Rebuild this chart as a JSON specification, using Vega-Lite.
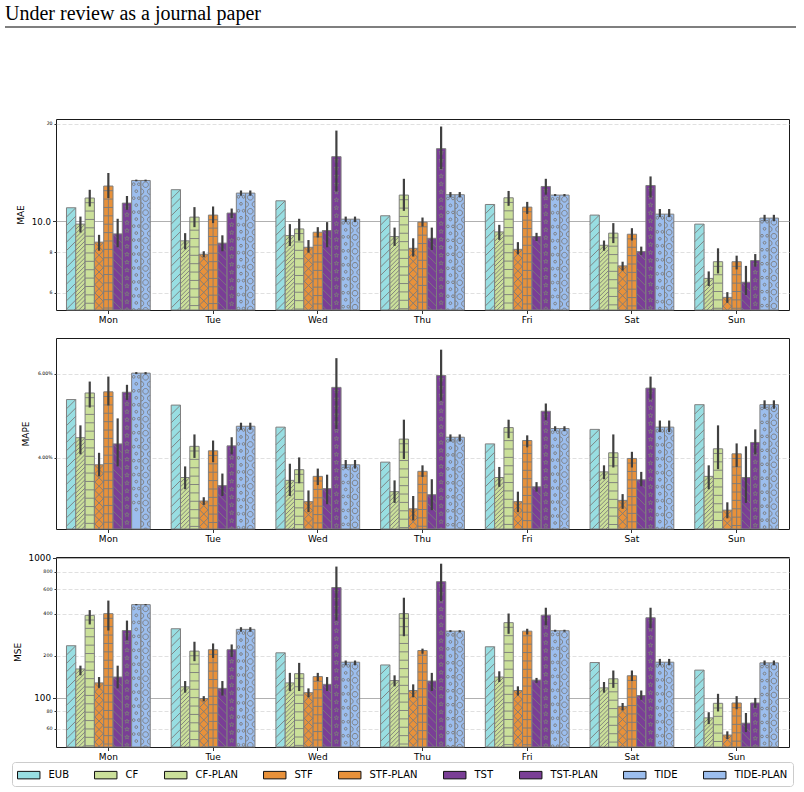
{
  "$schema": "https://vega.github.io/schema/vega-lite/v6.json",
  "background": "white",
  "padding": {"left": 4, "top": 4, "right": 6, "bottom": 4},
  "config": {
    "font": "DejaVu Sans",
    "view": {"stroke": "#1a1a1a", "strokeWidth": 1},
    "axis": {"labelColor": "black", "titleColor": "black", "tickColor": "black", "domain": false, "titleFontWeight": "normal", "titleFontSize": 9, "labelPadding": 2, "tickWidth": 0.8},
    "axisX": {"labelFontSize": 9, "tickSize": 3.5, "labelAngle": 0, "grid": false},
    "legend": {"orient": "none", "legendX": -44, "legendY": 735, "direction": "horizontal", "columns": 9, "symbolType": "M-1,-0.5H2V0.5H-1Z", "symbolSize": 224, "symbolStrokeColor": "#111111", "symbolStrokeWidth": 1, "labelFontSize": 10, "labelOffset": 15.5, "columnPadding": 23, "padding": 5, "strokeColor": "#cccccc", "cornerRadius": 3, "fillColor": "white", "labelColor": "black", "labelLimit": 0}
  },
  "datasets": {
    "d": [
      {"day":"Mon","method":"EUB","mae":11.0,"mae_lo":null,"mae_hi":null,"mape":5.30,"mape_lo":null,"mape_hi":null,"mse":236,"mse_lo":null,"mse_hi":null},
      {"day":"Mon","method":"CF","mae":9.79,"mae_lo":9.22,"mae_hi":10.33,"mape":4.41,"mape_lo":4.07,"mape_hi":4.68,"mse":161,"mse_lo":145,"mse_hi":170},
      {"day":"Mon","method":"CF-PLAN","mae":11.79,"mae_lo":11.1,"mae_hi":12.5,"mape":5.47,"mape_lo":5.10,"mape_hi":5.78,"mse":389,"mse_lo":335,"mse_hi":424},
      {"day":"Mon","method":"STF","mae":8.61,"mae_lo":8.10,"mae_hi":9.07,"mape":3.87,"mape_lo":3.66,"mape_hi":4.10,"mse":128,"mse_lo":118,"mse_hi":141},
      {"day":"Mon","method":"STF-PLAN","mae":12.84,"mae_lo":11.79,"mae_hi":14.09,"mape":5.50,"mape_lo":5.15,"mape_hi":5.92,"mse":400,"mse_lo":303,"mse_hi":496},
      {"day":"Mon","method":"TST","mae":9.13,"mae_lo":8.30,"mae_hi":10.17,"mape":4.28,"mape_lo":3.84,"mape_hi":4.84,"mse":141,"mse_lo":117,"mse_hi":170},
      {"day":"Mon","method":"TST-PLAN","mae":11.37,"mae_lo":10.84,"mae_hi":11.96,"mape":5.49,"mape_lo":5.29,"mape_hi":5.69,"mse":303,"mse_lo":258,"mse_hi":357},
      {"day":"Mon","method":"TIDE","mae":13.36,"mae_lo":13.28,"mae_hi":13.44,"mape":6.02,"mape_lo":5.99,"mape_hi":6.05,"mse":464,"mse_lo":459,"mse_hi":469},
      {"day":"Mon","method":"TIDE-PLAN","mae":13.36,"mae_lo":13.28,"mae_hi":13.44,"mape":6.02,"mape_lo":5.99,"mape_hi":6.05,"mse":464,"mse_lo":459,"mse_hi":469},

      {"day":"Tue","method":"EUB","mae":12.51,"mae_lo":null,"mae_hi":null,"mape":5.16,"mape_lo":null,"mape_hi":null,"mse":312,"mse_lo":null,"mse_hi":null},
      {"day":"Tue","method":"CF","mae":8.69,"mae_lo":8.18,"mae_hi":9.18,"mape":3.64,"mape_lo":3.44,"mape_hi":3.84,"mse":120,"mse_lo":109,"mse_hi":132},
      {"day":"Tue","method":"CF-PLAN","mae":10.29,"mae_lo":9.58,"mae_hi":11.05,"mape":4.23,"mape_lo":4.00,"mape_hi":4.48,"mse":216,"mse_lo":183,"mse_hi":252},
      {"day":"Tue","method":"STF","mae":7.90,"mae_lo":7.73,"mae_hi":8.07,"mape":3.25,"mape_lo":3.19,"mape_hi":3.31,"mse":99,"mse_lo":94.5,"mse_hi":103},
      {"day":"Tue","method":"STF-PLAN","mae":10.44,"mae_lo":9.86,"mae_hi":11.10,"mape":4.14,"mape_lo":3.92,"mape_hi":4.35,"mse":221,"mse_lo":193,"mse_hi":245},
      {"day":"Tue","method":"TST","mae":8.55,"mae_lo":8.07,"mae_hi":9.04,"mape":3.50,"mape_lo":3.33,"mape_hi":3.71,"mse":117,"mse_lo":104,"mse_hi":132},
      {"day":"Tue","method":"TST-PLAN","mae":10.59,"mae_lo":10.22,"mae_hi":10.94,"mape":4.24,"mape_lo":4.07,"mape_hi":4.42,"mse":221,"mse_lo":196,"mse_hi":241},
      {"day":"Tue","method":"TIDE","mae":12.21,"mae_lo":11.98,"mae_hi":12.44,"mape":4.66,"mape_lo":4.58,"mape_hi":4.74,"mse":309,"mse_lo":297,"mse_hi":320},
      {"day":"Tue","method":"TIDE-PLAN","mae":12.21,"mae_lo":11.98,"mae_hi":12.44,"mape":4.66,"mape_lo":4.58,"mape_hi":4.74,"mse":309,"mse_lo":297,"mse_hi":320},

      {"day":"Wed","method":"EUB","mae":11.56,"mae_lo":null,"mae_hi":null,"mape":4.64,"mape_lo":null,"mape_hi":null,"mse":210,"mse_lo":null,"mse_hi":null},
      {"day":"Wed","method":"CF","mae":9.02,"mae_lo":8.38,"mae_hi":9.79,"mape":3.59,"mape_lo":3.33,"mape_hi":3.89,"mse":128,"mse_lo":112,"mse_hi":151},
      {"day":"Wed","method":"CF-PLAN","mae":9.46,"mae_lo":8.70,"mae_hi":10.17,"mape":3.78,"mape_lo":3.54,"mape_hi":4.01,"mse":149,"mse_lo":112,"mse_hi":178},
      {"day":"Wed","method":"STF","mae":8.30,"mae_lo":7.99,"mae_hi":8.74,"mape":3.24,"mape_lo":3.08,"mape_hi":3.42,"mse":109,"mse_lo":101,"mse_hi":117},
      {"day":"Wed","method":"STF-PLAN","mae":9.24,"mae_lo":8.90,"mae_hi":9.58,"mape":3.66,"mape_lo":3.51,"mape_hi":3.80,"mse":142,"mse_lo":132,"mse_hi":151},
      {"day":"Wed","method":"TST","mae":9.35,"mae_lo":8.30,"mae_hi":9.93,"mape":3.45,"mape_lo":3.20,"mape_hi":3.69,"mse":125,"mse_lo":112,"mse_hi":141},
      {"day":"Wed","method":"TST-PLAN","mae":15.83,"mae_lo":12.35,"mae_hi":19.06,"mape":5.62,"mape_lo":4.60,"mape_hi":6.47,"mse":615,"mse_lo":357,"mse_hi":868},
      {"day":"Wed","method":"TIDE","mae":10.14,"mae_lo":9.93,"mae_hi":10.33,"mape":3.87,"mape_lo":3.80,"mape_hi":3.96,"mse":180,"mse_lo":171,"mse_hi":185},
      {"day":"Wed","method":"TIDE-PLAN","mae":10.14,"mae_lo":9.93,"mae_hi":10.33,"mape":3.87,"mape_lo":3.80,"mape_hi":3.96,"mse":180,"mse_lo":171,"mse_hi":185},

      {"day":"Thu","method":"EUB","mae":10.39,"mae_lo":null,"mae_hi":null,"mape":3.92,"mape_lo":null,"mape_hi":null,"mse":172,"mse_lo":null,"mse_hi":null},
      {"day":"Thu","method":"CF","mae":8.96,"mae_lo":8.38,"mae_hi":9.55,"mape":3.40,"mape_lo":3.22,"mape_hi":3.59,"mse":133,"mse_lo":121,"mse_hi":145},
      {"day":"Thu","method":"CF-PLAN","mae":12.04,"mae_lo":10.76,"mae_hi":13.52,"mape":4.38,"mape_lo":3.98,"mape_hi":4.81,"mse":400,"mse_lo":276,"mse_hi":520},
      {"day":"Thu","method":"STF","mae":8.24,"mae_lo":7.77,"mae_hi":8.85,"mape":3.13,"mape_lo":2.96,"mape_hi":3.33,"mse":113,"mse_lo":101,"mse_hi":125},
      {"day":"Thu","method":"STF-PLAN","mae":9.93,"mae_lo":9.62,"mae_hi":10.26,"mape":3.75,"mape_lo":3.65,"mape_hi":3.86,"mse":218,"mse_lo":207,"mse_hi":225},
      {"day":"Thu","method":"TST","mae":8.85,"mae_lo":8.14,"mae_hi":9.55,"mape":3.35,"mape_lo":3.11,"mape_hi":3.61,"mse":132,"mse_lo":112,"mse_hi":151},
      {"day":"Thu","method":"TST-PLAN","mae":16.76,"mae_lo":14.49,"mae_hi":19.62,"mape":5.95,"mape_lo":5.27,"mape_hi":6.74,"mse":677,"mse_lo":492,"mse_hi":910},
      {"day":"Thu","method":"TIDE","mae":12.07,"mae_lo":11.84,"mae_hi":12.30,"mape":4.42,"mape_lo":4.33,"mape_hi":4.48,"mse":300,"mse_lo":295,"mse_hi":305},
      {"day":"Thu","method":"TIDE-PLAN","mae":12.07,"mae_lo":11.84,"mae_hi":12.30,"mape":4.42,"mape_lo":4.33,"mape_hi":4.48,"mse":300,"mse_lo":295,"mse_hi":305},

      {"day":"Fri","method":"EUB","mae":11.26,"mae_lo":null,"mae_hi":null,"mape":4.28,"mape_lo":null,"mape_hi":null,"mse":232,"mse_lo":null,"mse_hi":null},
      {"day":"Fri","method":"CF","mae":9.26,"mae_lo":8.75,"mae_hi":9.74,"mape":3.64,"mape_lo":3.48,"mape_hi":3.83,"mse":141,"mse_lo":130,"mse_hi":155},
      {"day":"Fri","method":"CF-PLAN","mae":11.81,"mae_lo":11.15,"mae_hi":12.40,"mape":4.63,"mape_lo":4.40,"mape_hi":4.81,"mse":345,"mse_lo":287,"mse_hi":401},
      {"day":"Fri","method":"STF","mae":8.18,"mae_lo":7.90,"mae_hi":8.61,"mape":3.24,"mape_lo":3.08,"mape_hi":3.40,"mse":113,"mse_lo":104,"mse_hi":121},
      {"day":"Fri","method":"STF-PLAN","mae":11.05,"mae_lo":10.53,"mae_hi":11.47,"mape":4.35,"mape_lo":4.21,"mape_hi":4.46,"mse":300,"mse_lo":284,"mse_hi":312},
      {"day":"Fri","method":"TST","mae":8.96,"mae_lo":8.68,"mae_hi":9.20,"mape":3.48,"mape_lo":3.40,"mape_hi":3.56,"mse":134,"mse_lo":128,"mse_hi":139},
      {"day":"Fri","method":"TST-PLAN","mae":12.80,"mae_lo":12.07,"mae_hi":13.52,"mape":5.01,"mape_lo":4.80,"mape_hi":5.20,"mse":390,"mse_lo":330,"mse_hi":441},
      {"day":"Fri","method":"TIDE","mae":12.04,"mae_lo":11.95,"mae_hi":12.13,"mape":4.61,"mape_lo":4.55,"mape_hi":4.66,"mse":302,"mse_lo":297,"mse_hi":307},
      {"day":"Fri","method":"TIDE-PLAN","mae":12.04,"mae_lo":11.95,"mae_hi":12.13,"mape":4.61,"mape_lo":4.55,"mape_hi":4.66,"mse":302,"mse_lo":297,"mse_hi":307},

      {"day":"Sat","method":"EUB","mae":10.44,"mae_lo":null,"mae_hi":null,"mape":4.59,"mape_lo":null,"mape_hi":null,"mse":179,"mse_lo":null,"mse_hi":null},
      {"day":"Sat","method":"CF","mae":8.42,"mae_lo":8.10,"mae_hi":8.71,"mape":3.74,"mape_lo":3.61,"mape_hi":3.86,"mse":118,"mse_lo":109,"mse_hi":130},
      {"day":"Sat","method":"CF-PLAN","mae":9.18,"mae_lo":8.55,"mae_hi":9.86,"mape":4.10,"mape_lo":3.82,"mape_hi":4.48,"mse":137,"mse_lo":118,"mse_hi":157},
      {"day":"Sat","method":"STF","mae":7.27,"mae_lo":7.03,"mae_hi":7.49,"mape":3.26,"mape_lo":3.13,"mape_hi":3.36,"mse":87,"mse_lo":81.5,"mse_hi":92},
      {"day":"Sat","method":"STF-PLAN","mae":9.11,"mae_lo":8.71,"mae_hi":9.51,"mape":3.99,"mape_lo":3.82,"mape_hi":4.12,"mse":144,"mse_lo":132,"mse_hi":157},
      {"day":"Sat","method":"TST","mae":8.05,"mae_lo":7.86,"mae_hi":8.34,"mape":3.60,"mape_lo":3.49,"mape_hi":3.74,"mse":104,"mse_lo":97,"mse_hi":113},
      {"day":"Sat","method":"TST-PLAN","mae":12.89,"mae_lo":11.84,"mae_hi":13.75,"mape":5.60,"mape_lo":5.30,"mape_hi":5.92,"mse":374,"mse_lo":314,"mse_hi":441},
      {"day":"Sat","method":"TIDE","mae":10.51,"mae_lo":10.29,"mae_hi":10.90,"mape":4.64,"mape_lo":4.53,"mape_hi":4.79,"mse":180,"mse_lo":171,"mse_hi":190},
      {"day":"Sat","method":"TIDE-PLAN","mae":10.51,"mae_lo":10.29,"mae_hi":10.90,"mape":4.64,"mape_lo":4.53,"mape_hi":4.79,"mse":180,"mse_lo":171,"mse_hi":190},

      {"day":"Sun","method":"EUB","mae":9.79,"mae_lo":null,"mae_hi":null,"mape":5.17,"mape_lo":null,"mape_hi":null,"mse":158,"mse_lo":null,"mse_hi":null},
      {"day":"Sun","method":"CF","mae":6.65,"mae_lo":6.30,"mae_hi":6.99,"mape":3.66,"mape_lo":3.44,"mape_hi":3.86,"mse":72,"mse_lo":65,"mse_hi":79},
      {"day":"Sun","method":"CF-PLAN","mae":7.49,"mae_lo":6.89,"mae_hi":8.24,"mape":4.18,"mape_lo":3.79,"mape_hi":4.68,"mse":91.5,"mse_lo":80,"mse_hi":107},
      {"day":"Sun","method":"STF","mae":5.81,"mae_lo":5.59,"mae_hi":6.03,"mape":3.11,"mape_lo":2.99,"mape_hi":3.23,"mse":54.3,"mse_lo":50.9,"mse_hi":57.7},
      {"day":"Sun","method":"STF-PLAN","mae":7.49,"mae_lo":7.09,"mae_hi":7.82,"mape":4.08,"mape_lo":3.83,"mape_hi":4.29,"mse":92,"mse_lo":83,"mse_hi":103},
      {"day":"Sun","method":"TST","mae":6.47,"mae_lo":5.91,"mae_hi":7.27,"mape":3.64,"mape_lo":3.22,"mape_hi":4.23,"mse":66,"mse_lo":57,"mse_hi":78},
      {"day":"Sun","method":"TST-PLAN","mae":7.55,"mae_lo":7.23,"mae_hi":7.91,"mape":4.31,"mape_lo":4.07,"mape_hi":4.59,"mse":92,"mse_lo":85,"mse_hi":100},
      {"day":"Sun","method":"TIDE","mae":10.22,"mae_lo":9.99,"mae_hi":10.46,"mape":5.17,"mape_lo":5.07,"mape_hi":5.28,"mse":178,"mse_lo":171,"mse_hi":185},
      {"day":"Sun","method":"TIDE-PLAN","mae":10.22,"mae_lo":9.99,"mae_hi":10.46,"mape":5.17,"mape_lo":5.07,"mape_hi":5.28,"mse":178,"mse_lo":171,"mse_hi":185}
    ]
  },
  "spacing": 91,
  "bounds": "flush",
  "resolve": {"scale": {"color": "shared"}, "legend": {"color": "shared"}},
  "vconcat": [
    {
      "width": 733,
      "height": 1,
      "view": {"stroke": null},
      "title": {"text": "Under review as a journal paper", "anchor": "start", "frame": "group", "dx": -51, "font": "Liberation Serif", "fontSize": 20, "fontWeight": "normal", "baseline": "bottom", "offset": -18, "color": "black"},
      "data": {"values": [{}]},
      "mark": {"type": "rule", "color": "black", "strokeWidth": 1.2},
      "encoding": {
        "x": {"datum": -0.0696, "type": "quantitative", "scale": {"domain": [0, 1]}, "axis": null},
        "x2": {"datum": 1.0096},
        "y": {"datum": 1, "type": "quantitative", "scale": {"domain": [0, 1]}, "axis": null}
      }
    },
    {
      "spacing": 28,
      "bounds": "flush",
      "resolve": {"scale": {"y": "independent", "color": "shared"}, "legend": {"color": "shared"}},
      "vconcat": [
        {
          "width": 733,
          "height": 191,
          "data": {"name": "d"},
          "encoding": {
            "x": {"field": "day", "type": "nominal", "sort": ["Mon","Tue","Wed","Thu","Fri","Sat","Sun"], "scale": {"paddingInner": 0.2, "paddingOuter": 0.1}, "axis": {"title": null}},
            "xOffset": {"field": "method", "type": "nominal", "sort": ["EUB","CF","CF-PLAN","STF","STF-PLAN","TST","TST-PLAN","TIDE","TIDE-PLAN"], "scale": {"paddingInner": 0, "paddingOuter": 0}}
          },
          "layer": [
            {
              "mark": {"type": "bar", "stroke": "#7f7f7f", "strokeWidth": 1},
              "encoding": {
                "y": {"field": "mae", "type": "quantitative", "scale": {"type": "log", "domain": [5.31, 20.7], "nice": false, "zero": false},
                  "axis": {"title": "MAE", "values": [6, 8, 10, 20],
                    "labelExpr": "datum.value == 10 ? '10.0' : format(datum.value, 'd')",
                    "labelFontSize": {"condition": {"test": "datum.value == 10", "value": 8.6}, "value": 4.6},
                    "tickSize": {"condition": {"test": "datum.value == 10", "value": 3.5}, "value": 2},
                    "gridColor": {"condition": {"test": "datum.value == 10", "value": "#b0b0b0"}, "value": "#d8d8d8"},
                    "gridDash": {"condition": {"test": "datum.value == 10", "value": []}, "value": [4, 2]},
                    "gridWidth": {"condition": {"test": "datum.value == 10", "value": 1.2}, "value": 0.8},
                    "titleX": -36, "titleY": 95.5, "titleBaseline": "middle"}},
                "y2": {"datum": 5.31},
                "color": {"field": "method", "type": "nominal",
                  "scale": {"domain": ["EUB","CF","CF-PLAN","STF","STF-PLAN","TST","TST-PLAN","TIDE","TIDE-PLAN"],
                            "range": ["#98DEE2","#CBE09A","#CBE09A","#E8913A","#E8913A","#7A3E96","#7A3E96","#9CBEEE","#9CBEEE"]},
                  "legend": {"title": null}}
              }
            },
            {
              "mark": {"type": "point", "filled": false, "opacity": 1, "clip": true, "color": "#7a7a7a", "strokeWidth": 0.9, "size": 86.7},
              "encoding": {
                "y": {"field": "mae", "type": "quantitative"},
                "shape": {"condition": [
                  {"test": "datum.method === 'EUB'", "value": "M-1 2l2 -2m-2 3.8l2 -2m-2 3.8l2 -2m-2 3.8l2 -2m-2 3.8l2 -2m-2 3.8l2 -2m-2 3.8l2 -2m-2 3.8l2 -2m-2 3.8l2 -2m-2 3.8l2 -2m-2 3.8l2 -2m-2 3.8l2 -2m-2 3.8l2 -2m-2 3.8l2 -2m-2 3.8l2 -2m-2 3.8l2 -2m-2 3.8l2 -2m-2 3.8l2 -2m-2 3.8l2 -2m-2 3.8l2 -2m-2 3.8l2 -2m-2 3.8l2 -2m-2 3.8l2 -2m-2 3.8l2 -2m-2 3.8l2 -2"},
                  {"test": "datum.method === 'CF'", "value": "M-1 1.1l1.1 -1.1M-1 2l2 -2m-2 2.9l2 -2m-2 2.9l2 -2m-2 2.9l2 -2m-2 2.9l2 -2m-2 2.9l2 -2m-2 2.9l2 -2m-2 2.9l2 -2m-2 2.9l2 -2m-2 2.9l2 -2m-2 2.9l2 -2m-2 2.9l2 -2m-2 2.9l2 -2m-2 2.9l2 -2m-2 2.9l2 -2m-2 2.9l2 -2m-2 2.9l2 -2m-2 2.9l2 -2m-2 2.9l2 -2m-2 2.9l2 -2m-2 2.9l2 -2m-2 2.9l2 -2m-2 2.9l2 -2m-2 2.9l2 -2m-2 2.9l2 -2m-2 2.9l2 -2m-2 2.9l2 -2m-2 2.9l2 -2m-2 2.9l2 -2m-2 2.9l2 -2m-2 2.9l2 -2m-2 2.9l2 -2m-2 2.9l2 -2m-2 2.9l2 -2m-2 2.9l2 -2m-2 2.9l2 -2m-2 2.9l2 -2m-2 2.9l2 -2m-2 2.9l2 -2m-2 2.9l2 -2m-2 2.9l2 -2m-2 2.9l2 -2m-2 2.9l2 -2m-2 2.9l2 -2m-2 2.9l2 -2m-2 2.9l2 -2m-2 2.9l2 -2m-2 2.9l2 -2m-2 2.9l2 -2m-2 2.9l2 -2m-2 2.9l2 -2"},
                  {"test": "datum.method === 'CF-PLAN'", "value": "M-1 1l2 0m-2 1.8l2 0m-2 1.8l2 0m-2 1.8l2 0m-2 1.8l2 0m-2 1.8l2 0m-2 1.8l2 0m-2 1.8l2 0m-2 1.8l2 0m-2 1.8l2 0m-2 1.8l2 0m-2 1.8l2 0m-2 1.8l2 0m-2 1.8l2 0m-2 1.8l2 0m-2 1.8l2 0m-2 1.8l2 0m-2 1.8l2 0m-2 1.8l2 0m-2 1.8l2 0m-2 1.8l2 0m-2 1.8l2 0m-2 1.8l2 0m-2 1.8l2 0"},
                  {"test": "datum.method === 'STF'", "value": "M-1 2l2 -2m-2 3.8l2 -2m-2 3.8l2 -2m-2 3.8l2 -2m-2 3.8l2 -2m-2 3.8l2 -2m-2 3.8l2 -2m-2 3.8l2 -2m-2 3.8l2 -2m-2 3.8l2 -2m-2 3.8l2 -2m-2 3.8l2 -2m-2 3.8l2 -2m-2 3.8l2 -2m-2 3.8l2 -2m-2 3.8l2 -2m-2 3.8l2 -2m-2 3.8l2 -2m-2 3.8l2 -2m-2 3.8l2 -2m-2 3.8l2 -2m-2 3.8l2 -2m-2 3.8l2 -2m-2 3.8l2 -2M-1 0l2 2m-2 -0.2l2 2m-2 -0.2l2 2m-2 -0.2l2 2m-2 -0.2l2 2m-2 -0.2l2 2m-2 -0.2l2 2m-2 -0.2l2 2m-2 -0.2l2 2m-2 -0.2l2 2m-2 -0.2l2 2m-2 -0.2l2 2m-2 -0.2l2 2m-2 -0.2l2 2m-2 -0.2l2 2m-2 -0.2l2 2m-2 -0.2l2 2m-2 -0.2l2 2m-2 -0.2l2 2m-2 -0.2l2 2m-2 -0.2l2 2m-2 -0.2l2 2m-2 -0.2l2 2m-2 -0.2l2 2"},
                  {"test": "datum.method === 'STF-PLAN'", "value": "M0 0L0 44M-1 1l2 0m-2 1.8l2 0m-2 1.8l2 0m-2 1.8l2 0m-2 1.8l2 0m-2 1.8l2 0m-2 1.8l2 0m-2 1.8l2 0m-2 1.8l2 0m-2 1.8l2 0m-2 1.8l2 0m-2 1.8l2 0m-2 1.8l2 0m-2 1.8l2 0m-2 1.8l2 0m-2 1.8l2 0m-2 1.8l2 0m-2 1.8l2 0m-2 1.8l2 0m-2 1.8l2 0m-2 1.8l2 0m-2 1.8l2 0m-2 1.8l2 0m-2 1.8l2 0"},
                  {"test": "datum.method === 'TST'", "value": "M-1 0l2 2m-2 -0.2l2 2m-2 -0.2l2 2m-2 -0.2l2 2m-2 -0.2l2 2m-2 -0.2l2 2m-2 -0.2l2 2m-2 -0.2l2 2m-2 -0.2l2 2m-2 -0.2l2 2m-2 -0.2l2 2m-2 -0.2l2 2m-2 -0.2l2 2m-2 -0.2l2 2m-2 -0.2l2 2m-2 -0.2l2 2m-2 -0.2l2 2m-2 -0.2l2 2m-2 -0.2l2 2m-2 -0.2l2 2m-2 -0.2l2 2m-2 -0.2l2 2m-2 -0.2l2 2m-2 -0.2l2 2"},
                  {"test": "datum.method === 'TST-PLAN'", "value": "M0 0.3l0.118 0.338l0.358 0.007l-0.286 0.217l0.104 0.343l-0.294 -0.205l-0.294 0.205l0.104 -0.343l-0.286 -0.217l0.358 -0.007l0.118 -0.338m0 1.7l0.118 0.338l0.358 0.007l-0.286 0.217l0.104 0.343l-0.294 -0.205l-0.294 0.205l0.104 -0.343l-0.286 -0.217l0.358 -0.007l0.118 -0.338m0 1.7l0.118 0.338l0.358 0.007l-0.286 0.217l0.104 0.343l-0.294 -0.205l-0.294 0.205l0.104 -0.343l-0.286 -0.217l0.358 -0.007l0.118 -0.338m0 1.7l0.118 0.338l0.358 0.007l-0.286 0.217l0.104 0.343l-0.294 -0.205l-0.294 0.205l0.104 -0.343l-0.286 -0.217l0.358 -0.007l0.118 -0.338m0 1.7l0.118 0.338l0.358 0.007l-0.286 0.217l0.104 0.343l-0.294 -0.205l-0.294 0.205l0.104 -0.343l-0.286 -0.217l0.358 -0.007l0.118 -0.338m0 1.7l0.118 0.338l0.358 0.007l-0.286 0.217l0.104 0.343l-0.294 -0.205l-0.294 0.205l0.104 -0.343l-0.286 -0.217l0.358 -0.007l0.118 -0.338m0 1.7l0.118 0.338l0.358 0.007l-0.286 0.217l0.104 0.343l-0.294 -0.205l-0.294 0.205l0.104 -0.343l-0.286 -0.217l0.358 -0.007l0.118 -0.338m0 1.7l0.118 0.338l0.358 0.007l-0.286 0.217l0.104 0.343l-0.294 -0.205l-0.294 0.205l0.104 -0.343l-0.286 -0.217l0.358 -0.007l0.118 -0.338m0 1.7l0.118 0.338l0.358 0.007l-0.286 0.217l0.104 0.343l-0.294 -0.205l-0.294 0.205l0.104 -0.343l-0.286 -0.217l0.358 -0.007l0.118 -0.338m0 1.7l0.118 0.338l0.358 0.007l-0.286 0.217l0.104 0.343l-0.294 -0.205l-0.294 0.205l0.104 -0.343l-0.286 -0.217l0.358 -0.007l0.118 -0.338m0 1.7l0.118 0.338l0.358 0.007l-0.286 0.217l0.104 0.343l-0.294 -0.205l-0.294 0.205l0.104 -0.343l-0.286 -0.217l0.358 -0.007l0.118 -0.338m0 1.7l0.118 0.338l0.358 0.007l-0.286 0.217l0.104 0.343l-0.294 -0.205l-0.294 0.205l0.104 -0.343l-0.286 -0.217l0.358 -0.007l0.118 -0.338m0 1.7l0.118 0.338l0.358 0.007l-0.286 0.217l0.104 0.343l-0.294 -0.205l-0.294 0.205l0.104 -0.343l-0.286 -0.217l0.358 -0.007l0.118 -0.338m0 1.7l0.118 0.338l0.358 0.007l-0.286 0.217l0.104 0.343l-0.294 -0.205l-0.294 0.205l0.104 -0.343l-0.286 -0.217l0.358 -0.007l0.118 -0.338m0 1.7l0.118 0.338l0.358 0.007l-0.286 0.217l0.104 0.343l-0.294 -0.205l-0.294 0.205l0.104 -0.343l-0.286 -0.217l0.358 -0.007l0.118 -0.338m0 1.7l0.118 0.338l0.358 0.007l-0.286 0.217l0.104 0.343l-0.294 -0.205l-0.294 0.205l0.104 -0.343l-0.286 -0.217l0.358 -0.007l0.118 -0.338m0 1.7l0.118 0.338l0.358 0.007l-0.286 0.217l0.104 0.343l-0.294 -0.205l-0.294 0.205l0.104 -0.343l-0.286 -0.217l0.358 -0.007l0.118 -0.338m0 1.7l0.118 0.338l0.358 0.007l-0.286 0.217l0.104 0.343l-0.294 -0.205l-0.294 0.205l0.104 -0.343l-0.286 -0.217l0.358 -0.007l0.118 -0.338m0 1.7l0.118 0.338l0.358 0.007l-0.286 0.217l0.104 0.343l-0.294 -0.205l-0.294 0.205l0.104 -0.343l-0.286 -0.217l0.358 -0.007l0.118 -0.338m0 1.7l0.118 0.338l0.358 0.007l-0.286 0.217l0.104 0.343l-0.294 -0.205l-0.294 0.205l0.104 -0.343l-0.286 -0.217l0.358 -0.007l0.118 -0.338m0 1.7l0.118 0.338l0.358 0.007l-0.286 0.217l0.104 0.343l-0.294 -0.205l-0.294 0.205l0.104 -0.343l-0.286 -0.217l0.358 -0.007l0.118 -0.338m0 1.7l0.118 0.338l0.358 0.007l-0.286 0.217l0.104 0.343l-0.294 -0.205l-0.294 0.205l0.104 -0.343l-0.286 -0.217l0.358 -0.007l0.118 -0.338m0 1.7l0.118 0.338l0.358 0.007l-0.286 0.217l0.104 0.343l-0.294 -0.205l-0.294 0.205l0.104 -0.343l-0.286 -0.217l0.358 -0.007l0.118 -0.338m0 1.7l0.118 0.338l0.358 0.007l-0.286 0.217l0.104 0.343l-0.294 -0.205l-0.294 0.205l0.104 -0.343l-0.286 -0.217l0.358 -0.007l0.118 -0.338m0 1.7l0.118 0.338l0.358 0.007l-0.286 0.217l0.104 0.343l-0.294 -0.205l-0.294 0.205l0.104 -0.343l-0.286 -0.217l0.358 -0.007l0.118 -0.338"},
                  {"test": "datum.method === 'TIDE'", "value": "M-0.85 0.8a0.3 0.3 0 1 0 0.6 0a0.3 0.3 0 1 0 -0.6 0m1.1 0a0.3 0.3 0 1 0 0.6 0a0.3 0.3 0 1 0 -0.6 0m-0.55 1.5a0.3 0.3 0 1 0 0.6 0a0.3 0.3 0 1 0 -0.6 0m-0.55 1.5a0.3 0.3 0 1 0 0.6 0a0.3 0.3 0 1 0 -0.6 0m1.1 0a0.3 0.3 0 1 0 0.6 0a0.3 0.3 0 1 0 -0.6 0m-0.55 1.5a0.3 0.3 0 1 0 0.6 0a0.3 0.3 0 1 0 -0.6 0m-0.55 1.5a0.3 0.3 0 1 0 0.6 0a0.3 0.3 0 1 0 -0.6 0m1.1 0a0.3 0.3 0 1 0 0.6 0a0.3 0.3 0 1 0 -0.6 0m-0.55 1.5a0.3 0.3 0 1 0 0.6 0a0.3 0.3 0 1 0 -0.6 0m-0.55 1.5a0.3 0.3 0 1 0 0.6 0a0.3 0.3 0 1 0 -0.6 0m1.1 0a0.3 0.3 0 1 0 0.6 0a0.3 0.3 0 1 0 -0.6 0m-0.55 1.5a0.3 0.3 0 1 0 0.6 0a0.3 0.3 0 1 0 -0.6 0m-0.55 1.5a0.3 0.3 0 1 0 0.6 0a0.3 0.3 0 1 0 -0.6 0m1.1 0a0.3 0.3 0 1 0 0.6 0a0.3 0.3 0 1 0 -0.6 0m-0.55 1.5a0.3 0.3 0 1 0 0.6 0a0.3 0.3 0 1 0 -0.6 0m-0.55 1.5a0.3 0.3 0 1 0 0.6 0a0.3 0.3 0 1 0 -0.6 0m1.1 0a0.3 0.3 0 1 0 0.6 0a0.3 0.3 0 1 0 -0.6 0m-0.55 1.5a0.3 0.3 0 1 0 0.6 0a0.3 0.3 0 1 0 -0.6 0m-0.55 1.5a0.3 0.3 0 1 0 0.6 0a0.3 0.3 0 1 0 -0.6 0m1.1 0a0.3 0.3 0 1 0 0.6 0a0.3 0.3 0 1 0 -0.6 0m-0.55 1.5a0.3 0.3 0 1 0 0.6 0a0.3 0.3 0 1 0 -0.6 0m-0.55 1.5a0.3 0.3 0 1 0 0.6 0a0.3 0.3 0 1 0 -0.6 0m1.1 0a0.3 0.3 0 1 0 0.6 0a0.3 0.3 0 1 0 -0.6 0m-0.55 1.5a0.3 0.3 0 1 0 0.6 0a0.3 0.3 0 1 0 -0.6 0m-0.55 1.5a0.3 0.3 0 1 0 0.6 0a0.3 0.3 0 1 0 -0.6 0m1.1 0a0.3 0.3 0 1 0 0.6 0a0.3 0.3 0 1 0 -0.6 0m-0.55 1.5a0.3 0.3 0 1 0 0.6 0a0.3 0.3 0 1 0 -0.6 0m-0.55 1.5a0.3 0.3 0 1 0 0.6 0a0.3 0.3 0 1 0 -0.6 0m1.1 0a0.3 0.3 0 1 0 0.6 0a0.3 0.3 0 1 0 -0.6 0m-0.55 1.5a0.3 0.3 0 1 0 0.6 0a0.3 0.3 0 1 0 -0.6 0"},
                  {"test": "datum.method === 'TIDE-PLAN'", "value": "M-0.6 0.9a0.6 0.6 0 1 0 1.2 0a0.6 0.6 0 1 0 -1.2 0m1.6 0.9a0.6 0.6 0 0 0 0 1.2m-2 -1.2a0.6 0.6 0 0 1 0 1.2m0.4 0.9a0.6 0.6 0 1 0 1.2 0a0.6 0.6 0 1 0 -1.2 0m1.6 0.9a0.6 0.6 0 0 0 0 1.2m-2 -1.2a0.6 0.6 0 0 1 0 1.2m0.4 0.9a0.6 0.6 0 1 0 1.2 0a0.6 0.6 0 1 0 -1.2 0m1.6 0.9a0.6 0.6 0 0 0 0 1.2m-2 -1.2a0.6 0.6 0 0 1 0 1.2m0.4 0.9a0.6 0.6 0 1 0 1.2 0a0.6 0.6 0 1 0 -1.2 0m1.6 0.9a0.6 0.6 0 0 0 0 1.2m-2 -1.2a0.6 0.6 0 0 1 0 1.2m0.4 0.9a0.6 0.6 0 1 0 1.2 0a0.6 0.6 0 1 0 -1.2 0m1.6 0.9a0.6 0.6 0 0 0 0 1.2m-2 -1.2a0.6 0.6 0 0 1 0 1.2m0.4 0.9a0.6 0.6 0 1 0 1.2 0a0.6 0.6 0 1 0 -1.2 0m1.6 0.9a0.6 0.6 0 0 0 0 1.2m-2 -1.2a0.6 0.6 0 0 1 0 1.2m0.4 0.9a0.6 0.6 0 1 0 1.2 0a0.6 0.6 0 1 0 -1.2 0m1.6 0.9a0.6 0.6 0 0 0 0 1.2m-2 -1.2a0.6 0.6 0 0 1 0 1.2m0.4 0.9a0.6 0.6 0 1 0 1.2 0a0.6 0.6 0 1 0 -1.2 0m1.6 0.9a0.6 0.6 0 0 0 0 1.2m-2 -1.2a0.6 0.6 0 0 1 0 1.2m0.4 0.9a0.6 0.6 0 1 0 1.2 0a0.6 0.6 0 1 0 -1.2 0m1.6 0.9a0.6 0.6 0 0 0 0 1.2m-2 -1.2a0.6 0.6 0 0 1 0 1.2m0.4 0.9a0.6 0.6 0 1 0 1.2 0a0.6 0.6 0 1 0 -1.2 0m1.6 0.9a0.6 0.6 0 0 0 0 1.2m-2 -1.2a0.6 0.6 0 0 1 0 1.2m0.4 0.9a0.6 0.6 0 1 0 1.2 0a0.6 0.6 0 1 0 -1.2 0m1.6 0.9a0.6 0.6 0 0 0 0 1.2m-2 -1.2a0.6 0.6 0 0 1 0 1.2m0.4 0.9a0.6 0.6 0 1 0 1.2 0a0.6 0.6 0 1 0 -1.2 0m1.6 0.9a0.6 0.6 0 0 0 0 1.2m-2 -1.2a0.6 0.6 0 0 1 0 1.2m0.4 0.9a0.6 0.6 0 1 0 1.2 0a0.6 0.6 0 1 0 -1.2 0m1.6 0.9a0.6 0.6 0 0 0 0 1.2m-2 -1.2a0.6 0.6 0 0 1 0 1.2m0.4 0.9"}
                ], "value": "M0 0"}
              }
            },
            {
              "mark": {"type": "rule", "color": "#404040", "strokeWidth": 2.2},
              "encoding": {"y": {"field": "mae_lo", "type": "quantitative"}, "y2": {"field": "mae_hi"}}
            }
          ]
        },
        {
          "width": 733,
          "height": 191,
          "data": {"name": "d"},
          "encoding": {
            "x": {"field": "day", "type": "nominal", "sort": ["Mon","Tue","Wed","Thu","Fri","Sat","Sun"], "scale": {"paddingInner": 0.2, "paddingOuter": 0.1}, "axis": {"title": null}},
            "xOffset": {"field": "method", "type": "nominal", "sort": ["EUB","CF","CF-PLAN","STF","STF-PLAN","TST","TST-PLAN","TIDE","TIDE-PLAN"], "scale": {"paddingInner": 0, "paddingOuter": 0}}
          },
          "layer": [
            {
              "mark": {"type": "bar", "stroke": "#7f7f7f", "strokeWidth": 1},
              "encoding": {
                "y": {"field": "mape", "type": "quantitative", "scale": {"type": "log", "domain": [2.84, 7.13], "nice": false, "zero": false},
                  "axis": {"title": "MAPE", "values": [4, 6],
                    "labelExpr": "format(datum.value, '.2f') + '%'",
                    "labelFontSize": 4.6, "tickSize": 2,
                    "gridColor": "#d8d8d8", "gridDash": [4, 2], "gridWidth": 0.8,
                    "titleX": -30.3, "titleY": 95.5, "titleBaseline": "middle"}},
                "y2": {"datum": 2.84},
                "color": {"field": "method", "type": "nominal",
                  "scale": {"domain": ["EUB","CF","CF-PLAN","STF","STF-PLAN","TST","TST-PLAN","TIDE","TIDE-PLAN"],
                            "range": ["#98DEE2","#CBE09A","#CBE09A","#E8913A","#E8913A","#7A3E96","#7A3E96","#9CBEEE","#9CBEEE"]},
                  "legend": {"title": null}}
              }
            },
            {
              "mark": {"type": "point", "filled": false, "opacity": 1, "clip": true, "color": "#7a7a7a", "strokeWidth": 0.9, "size": 86.7},
              "encoding": {
                "y": {"field": "mape", "type": "quantitative"},
                "shape": {"condition": [
                  {"test": "datum.method === 'EUB'", "value": "M-1 2l2 -2m-2 3.8l2 -2m-2 3.8l2 -2m-2 3.8l2 -2m-2 3.8l2 -2m-2 3.8l2 -2m-2 3.8l2 -2m-2 3.8l2 -2m-2 3.8l2 -2m-2 3.8l2 -2m-2 3.8l2 -2m-2 3.8l2 -2m-2 3.8l2 -2m-2 3.8l2 -2m-2 3.8l2 -2m-2 3.8l2 -2m-2 3.8l2 -2m-2 3.8l2 -2m-2 3.8l2 -2m-2 3.8l2 -2m-2 3.8l2 -2m-2 3.8l2 -2m-2 3.8l2 -2m-2 3.8l2 -2m-2 3.8l2 -2"},
                  {"test": "datum.method === 'CF'", "value": "M-1 1.1l1.1 -1.1M-1 2l2 -2m-2 2.9l2 -2m-2 2.9l2 -2m-2 2.9l2 -2m-2 2.9l2 -2m-2 2.9l2 -2m-2 2.9l2 -2m-2 2.9l2 -2m-2 2.9l2 -2m-2 2.9l2 -2m-2 2.9l2 -2m-2 2.9l2 -2m-2 2.9l2 -2m-2 2.9l2 -2m-2 2.9l2 -2m-2 2.9l2 -2m-2 2.9l2 -2m-2 2.9l2 -2m-2 2.9l2 -2m-2 2.9l2 -2m-2 2.9l2 -2m-2 2.9l2 -2m-2 2.9l2 -2m-2 2.9l2 -2m-2 2.9l2 -2m-2 2.9l2 -2m-2 2.9l2 -2m-2 2.9l2 -2m-2 2.9l2 -2m-2 2.9l2 -2m-2 2.9l2 -2m-2 2.9l2 -2m-2 2.9l2 -2m-2 2.9l2 -2m-2 2.9l2 -2m-2 2.9l2 -2m-2 2.9l2 -2m-2 2.9l2 -2m-2 2.9l2 -2m-2 2.9l2 -2m-2 2.9l2 -2m-2 2.9l2 -2m-2 2.9l2 -2m-2 2.9l2 -2m-2 2.9l2 -2m-2 2.9l2 -2m-2 2.9l2 -2m-2 2.9l2 -2m-2 2.9l2 -2m-2 2.9l2 -2m-2 2.9l2 -2m-2 2.9l2 -2"},
                  {"test": "datum.method === 'CF-PLAN'", "value": "M-1 1l2 0m-2 1.8l2 0m-2 1.8l2 0m-2 1.8l2 0m-2 1.8l2 0m-2 1.8l2 0m-2 1.8l2 0m-2 1.8l2 0m-2 1.8l2 0m-2 1.8l2 0m-2 1.8l2 0m-2 1.8l2 0m-2 1.8l2 0m-2 1.8l2 0m-2 1.8l2 0m-2 1.8l2 0m-2 1.8l2 0m-2 1.8l2 0m-2 1.8l2 0m-2 1.8l2 0m-2 1.8l2 0m-2 1.8l2 0m-2 1.8l2 0m-2 1.8l2 0"},
                  {"test": "datum.method === 'STF'", "value": "M-1 2l2 -2m-2 3.8l2 -2m-2 3.8l2 -2m-2 3.8l2 -2m-2 3.8l2 -2m-2 3.8l2 -2m-2 3.8l2 -2m-2 3.8l2 -2m-2 3.8l2 -2m-2 3.8l2 -2m-2 3.8l2 -2m-2 3.8l2 -2m-2 3.8l2 -2m-2 3.8l2 -2m-2 3.8l2 -2m-2 3.8l2 -2m-2 3.8l2 -2m-2 3.8l2 -2m-2 3.8l2 -2m-2 3.8l2 -2m-2 3.8l2 -2m-2 3.8l2 -2m-2 3.8l2 -2m-2 3.8l2 -2M-1 0l2 2m-2 -0.2l2 2m-2 -0.2l2 2m-2 -0.2l2 2m-2 -0.2l2 2m-2 -0.2l2 2m-2 -0.2l2 2m-2 -0.2l2 2m-2 -0.2l2 2m-2 -0.2l2 2m-2 -0.2l2 2m-2 -0.2l2 2m-2 -0.2l2 2m-2 -0.2l2 2m-2 -0.2l2 2m-2 -0.2l2 2m-2 -0.2l2 2m-2 -0.2l2 2m-2 -0.2l2 2m-2 -0.2l2 2m-2 -0.2l2 2m-2 -0.2l2 2m-2 -0.2l2 2m-2 -0.2l2 2"},
                  {"test": "datum.method === 'STF-PLAN'", "value": "M0 0L0 44M-1 1l2 0m-2 1.8l2 0m-2 1.8l2 0m-2 1.8l2 0m-2 1.8l2 0m-2 1.8l2 0m-2 1.8l2 0m-2 1.8l2 0m-2 1.8l2 0m-2 1.8l2 0m-2 1.8l2 0m-2 1.8l2 0m-2 1.8l2 0m-2 1.8l2 0m-2 1.8l2 0m-2 1.8l2 0m-2 1.8l2 0m-2 1.8l2 0m-2 1.8l2 0m-2 1.8l2 0m-2 1.8l2 0m-2 1.8l2 0m-2 1.8l2 0m-2 1.8l2 0"},
                  {"test": "datum.method === 'TST'", "value": "M-1 0l2 2m-2 -0.2l2 2m-2 -0.2l2 2m-2 -0.2l2 2m-2 -0.2l2 2m-2 -0.2l2 2m-2 -0.2l2 2m-2 -0.2l2 2m-2 -0.2l2 2m-2 -0.2l2 2m-2 -0.2l2 2m-2 -0.2l2 2m-2 -0.2l2 2m-2 -0.2l2 2m-2 -0.2l2 2m-2 -0.2l2 2m-2 -0.2l2 2m-2 -0.2l2 2m-2 -0.2l2 2m-2 -0.2l2 2m-2 -0.2l2 2m-2 -0.2l2 2m-2 -0.2l2 2m-2 -0.2l2 2"},
                  {"test": "datum.method === 'TST-PLAN'", "value": "M0 0.3l0.118 0.338l0.358 0.007l-0.286 0.217l0.104 0.343l-0.294 -0.205l-0.294 0.205l0.104 -0.343l-0.286 -0.217l0.358 -0.007l0.118 -0.338m0 1.7l0.118 0.338l0.358 0.007l-0.286 0.217l0.104 0.343l-0.294 -0.205l-0.294 0.205l0.104 -0.343l-0.286 -0.217l0.358 -0.007l0.118 -0.338m0 1.7l0.118 0.338l0.358 0.007l-0.286 0.217l0.104 0.343l-0.294 -0.205l-0.294 0.205l0.104 -0.343l-0.286 -0.217l0.358 -0.007l0.118 -0.338m0 1.7l0.118 0.338l0.358 0.007l-0.286 0.217l0.104 0.343l-0.294 -0.205l-0.294 0.205l0.104 -0.343l-0.286 -0.217l0.358 -0.007l0.118 -0.338m0 1.7l0.118 0.338l0.358 0.007l-0.286 0.217l0.104 0.343l-0.294 -0.205l-0.294 0.205l0.104 -0.343l-0.286 -0.217l0.358 -0.007l0.118 -0.338m0 1.7l0.118 0.338l0.358 0.007l-0.286 0.217l0.104 0.343l-0.294 -0.205l-0.294 0.205l0.104 -0.343l-0.286 -0.217l0.358 -0.007l0.118 -0.338m0 1.7l0.118 0.338l0.358 0.007l-0.286 0.217l0.104 0.343l-0.294 -0.205l-0.294 0.205l0.104 -0.343l-0.286 -0.217l0.358 -0.007l0.118 -0.338m0 1.7l0.118 0.338l0.358 0.007l-0.286 0.217l0.104 0.343l-0.294 -0.205l-0.294 0.205l0.104 -0.343l-0.286 -0.217l0.358 -0.007l0.118 -0.338m0 1.7l0.118 0.338l0.358 0.007l-0.286 0.217l0.104 0.343l-0.294 -0.205l-0.294 0.205l0.104 -0.343l-0.286 -0.217l0.358 -0.007l0.118 -0.338m0 1.7l0.118 0.338l0.358 0.007l-0.286 0.217l0.104 0.343l-0.294 -0.205l-0.294 0.205l0.104 -0.343l-0.286 -0.217l0.358 -0.007l0.118 -0.338m0 1.7l0.118 0.338l0.358 0.007l-0.286 0.217l0.104 0.343l-0.294 -0.205l-0.294 0.205l0.104 -0.343l-0.286 -0.217l0.358 -0.007l0.118 -0.338m0 1.7l0.118 0.338l0.358 0.007l-0.286 0.217l0.104 0.343l-0.294 -0.205l-0.294 0.205l0.104 -0.343l-0.286 -0.217l0.358 -0.007l0.118 -0.338m0 1.7l0.118 0.338l0.358 0.007l-0.286 0.217l0.104 0.343l-0.294 -0.205l-0.294 0.205l0.104 -0.343l-0.286 -0.217l0.358 -0.007l0.118 -0.338m0 1.7l0.118 0.338l0.358 0.007l-0.286 0.217l0.104 0.343l-0.294 -0.205l-0.294 0.205l0.104 -0.343l-0.286 -0.217l0.358 -0.007l0.118 -0.338m0 1.7l0.118 0.338l0.358 0.007l-0.286 0.217l0.104 0.343l-0.294 -0.205l-0.294 0.205l0.104 -0.343l-0.286 -0.217l0.358 -0.007l0.118 -0.338m0 1.7l0.118 0.338l0.358 0.007l-0.286 0.217l0.104 0.343l-0.294 -0.205l-0.294 0.205l0.104 -0.343l-0.286 -0.217l0.358 -0.007l0.118 -0.338m0 1.7l0.118 0.338l0.358 0.007l-0.286 0.217l0.104 0.343l-0.294 -0.205l-0.294 0.205l0.104 -0.343l-0.286 -0.217l0.358 -0.007l0.118 -0.338m0 1.7l0.118 0.338l0.358 0.007l-0.286 0.217l0.104 0.343l-0.294 -0.205l-0.294 0.205l0.104 -0.343l-0.286 -0.217l0.358 -0.007l0.118 -0.338m0 1.7l0.118 0.338l0.358 0.007l-0.286 0.217l0.104 0.343l-0.294 -0.205l-0.294 0.205l0.104 -0.343l-0.286 -0.217l0.358 -0.007l0.118 -0.338m0 1.7l0.118 0.338l0.358 0.007l-0.286 0.217l0.104 0.343l-0.294 -0.205l-0.294 0.205l0.104 -0.343l-0.286 -0.217l0.358 -0.007l0.118 -0.338m0 1.7l0.118 0.338l0.358 0.007l-0.286 0.217l0.104 0.343l-0.294 -0.205l-0.294 0.205l0.104 -0.343l-0.286 -0.217l0.358 -0.007l0.118 -0.338m0 1.7l0.118 0.338l0.358 0.007l-0.286 0.217l0.104 0.343l-0.294 -0.205l-0.294 0.205l0.104 -0.343l-0.286 -0.217l0.358 -0.007l0.118 -0.338m0 1.7l0.118 0.338l0.358 0.007l-0.286 0.217l0.104 0.343l-0.294 -0.205l-0.294 0.205l0.104 -0.343l-0.286 -0.217l0.358 -0.007l0.118 -0.338m0 1.7l0.118 0.338l0.358 0.007l-0.286 0.217l0.104 0.343l-0.294 -0.205l-0.294 0.205l0.104 -0.343l-0.286 -0.217l0.358 -0.007l0.118 -0.338m0 1.7l0.118 0.338l0.358 0.007l-0.286 0.217l0.104 0.343l-0.294 -0.205l-0.294 0.205l0.104 -0.343l-0.286 -0.217l0.358 -0.007l0.118 -0.338"},
                  {"test": "datum.method === 'TIDE'", "value": "M-0.85 0.8a0.3 0.3 0 1 0 0.6 0a0.3 0.3 0 1 0 -0.6 0m1.1 0a0.3 0.3 0 1 0 0.6 0a0.3 0.3 0 1 0 -0.6 0m-0.55 1.5a0.3 0.3 0 1 0 0.6 0a0.3 0.3 0 1 0 -0.6 0m-0.55 1.5a0.3 0.3 0 1 0 0.6 0a0.3 0.3 0 1 0 -0.6 0m1.1 0a0.3 0.3 0 1 0 0.6 0a0.3 0.3 0 1 0 -0.6 0m-0.55 1.5a0.3 0.3 0 1 0 0.6 0a0.3 0.3 0 1 0 -0.6 0m-0.55 1.5a0.3 0.3 0 1 0 0.6 0a0.3 0.3 0 1 0 -0.6 0m1.1 0a0.3 0.3 0 1 0 0.6 0a0.3 0.3 0 1 0 -0.6 0m-0.55 1.5a0.3 0.3 0 1 0 0.6 0a0.3 0.3 0 1 0 -0.6 0m-0.55 1.5a0.3 0.3 0 1 0 0.6 0a0.3 0.3 0 1 0 -0.6 0m1.1 0a0.3 0.3 0 1 0 0.6 0a0.3 0.3 0 1 0 -0.6 0m-0.55 1.5a0.3 0.3 0 1 0 0.6 0a0.3 0.3 0 1 0 -0.6 0m-0.55 1.5a0.3 0.3 0 1 0 0.6 0a0.3 0.3 0 1 0 -0.6 0m1.1 0a0.3 0.3 0 1 0 0.6 0a0.3 0.3 0 1 0 -0.6 0m-0.55 1.5a0.3 0.3 0 1 0 0.6 0a0.3 0.3 0 1 0 -0.6 0m-0.55 1.5a0.3 0.3 0 1 0 0.6 0a0.3 0.3 0 1 0 -0.6 0m1.1 0a0.3 0.3 0 1 0 0.6 0a0.3 0.3 0 1 0 -0.6 0m-0.55 1.5a0.3 0.3 0 1 0 0.6 0a0.3 0.3 0 1 0 -0.6 0m-0.55 1.5a0.3 0.3 0 1 0 0.6 0a0.3 0.3 0 1 0 -0.6 0m1.1 0a0.3 0.3 0 1 0 0.6 0a0.3 0.3 0 1 0 -0.6 0m-0.55 1.5a0.3 0.3 0 1 0 0.6 0a0.3 0.3 0 1 0 -0.6 0m-0.55 1.5a0.3 0.3 0 1 0 0.6 0a0.3 0.3 0 1 0 -0.6 0m1.1 0a0.3 0.3 0 1 0 0.6 0a0.3 0.3 0 1 0 -0.6 0m-0.55 1.5a0.3 0.3 0 1 0 0.6 0a0.3 0.3 0 1 0 -0.6 0m-0.55 1.5a0.3 0.3 0 1 0 0.6 0a0.3 0.3 0 1 0 -0.6 0m1.1 0a0.3 0.3 0 1 0 0.6 0a0.3 0.3 0 1 0 -0.6 0m-0.55 1.5a0.3 0.3 0 1 0 0.6 0a0.3 0.3 0 1 0 -0.6 0m-0.55 1.5a0.3 0.3 0 1 0 0.6 0a0.3 0.3 0 1 0 -0.6 0m1.1 0a0.3 0.3 0 1 0 0.6 0a0.3 0.3 0 1 0 -0.6 0m-0.55 1.5a0.3 0.3 0 1 0 0.6 0a0.3 0.3 0 1 0 -0.6 0"},
                  {"test": "datum.method === 'TIDE-PLAN'", "value": "M-0.6 0.9a0.6 0.6 0 1 0 1.2 0a0.6 0.6 0 1 0 -1.2 0m1.6 0.9a0.6 0.6 0 0 0 0 1.2m-2 -1.2a0.6 0.6 0 0 1 0 1.2m0.4 0.9a0.6 0.6 0 1 0 1.2 0a0.6 0.6 0 1 0 -1.2 0m1.6 0.9a0.6 0.6 0 0 0 0 1.2m-2 -1.2a0.6 0.6 0 0 1 0 1.2m0.4 0.9a0.6 0.6 0 1 0 1.2 0a0.6 0.6 0 1 0 -1.2 0m1.6 0.9a0.6 0.6 0 0 0 0 1.2m-2 -1.2a0.6 0.6 0 0 1 0 1.2m0.4 0.9a0.6 0.6 0 1 0 1.2 0a0.6 0.6 0 1 0 -1.2 0m1.6 0.9a0.6 0.6 0 0 0 0 1.2m-2 -1.2a0.6 0.6 0 0 1 0 1.2m0.4 0.9a0.6 0.6 0 1 0 1.2 0a0.6 0.6 0 1 0 -1.2 0m1.6 0.9a0.6 0.6 0 0 0 0 1.2m-2 -1.2a0.6 0.6 0 0 1 0 1.2m0.4 0.9a0.6 0.6 0 1 0 1.2 0a0.6 0.6 0 1 0 -1.2 0m1.6 0.9a0.6 0.6 0 0 0 0 1.2m-2 -1.2a0.6 0.6 0 0 1 0 1.2m0.4 0.9a0.6 0.6 0 1 0 1.2 0a0.6 0.6 0 1 0 -1.2 0m1.6 0.9a0.6 0.6 0 0 0 0 1.2m-2 -1.2a0.6 0.6 0 0 1 0 1.2m0.4 0.9a0.6 0.6 0 1 0 1.2 0a0.6 0.6 0 1 0 -1.2 0m1.6 0.9a0.6 0.6 0 0 0 0 1.2m-2 -1.2a0.6 0.6 0 0 1 0 1.2m0.4 0.9a0.6 0.6 0 1 0 1.2 0a0.6 0.6 0 1 0 -1.2 0m1.6 0.9a0.6 0.6 0 0 0 0 1.2m-2 -1.2a0.6 0.6 0 0 1 0 1.2m0.4 0.9a0.6 0.6 0 1 0 1.2 0a0.6 0.6 0 1 0 -1.2 0m1.6 0.9a0.6 0.6 0 0 0 0 1.2m-2 -1.2a0.6 0.6 0 0 1 0 1.2m0.4 0.9a0.6 0.6 0 1 0 1.2 0a0.6 0.6 0 1 0 -1.2 0m1.6 0.9a0.6 0.6 0 0 0 0 1.2m-2 -1.2a0.6 0.6 0 0 1 0 1.2m0.4 0.9a0.6 0.6 0 1 0 1.2 0a0.6 0.6 0 1 0 -1.2 0m1.6 0.9a0.6 0.6 0 0 0 0 1.2m-2 -1.2a0.6 0.6 0 0 1 0 1.2m0.4 0.9a0.6 0.6 0 1 0 1.2 0a0.6 0.6 0 1 0 -1.2 0m1.6 0.9a0.6 0.6 0 0 0 0 1.2m-2 -1.2a0.6 0.6 0 0 1 0 1.2m0.4 0.9"}
                ], "value": "M0 0"}
              }
            },
            {
              "mark": {"type": "rule", "color": "#404040", "strokeWidth": 2.2},
              "encoding": {"y": {"field": "mape_lo", "type": "quantitative"}, "y2": {"field": "mape_hi"}}
            }
          ]
        },
        {
          "width": 733,
          "height": 190,
          "data": {"name": "d"},
          "encoding": {
            "x": {"field": "day", "type": "nominal", "sort": ["Mon","Tue","Wed","Thu","Fri","Sat","Sun"], "scale": {"paddingInner": 0.2, "paddingOuter": 0.1}, "axis": {"title": null}},
            "xOffset": {"field": "method", "type": "nominal", "sort": ["EUB","CF","CF-PLAN","STF","STF-PLAN","TST","TST-PLAN","TIDE","TIDE-PLAN"], "scale": {"paddingInner": 0, "paddingOuter": 0}}
          },
          "layer": [
            {
              "mark": {"type": "bar", "stroke": "#7f7f7f", "strokeWidth": 1},
              "encoding": {
                "y": {"field": "mse", "type": "quantitative", "scale": {"type": "log", "domain": [44.6, 1016], "nice": false, "zero": false},
                  "axis": {"title": "MSE", "values": [60, 80, 100, 200, 400, 600, 800, 1000],
                    "labelExpr": "format(datum.value, 'd')",
                    "labelFontSize": {"condition": {"test": "datum.value == 100 || datum.value == 1000", "value": 8.8}, "value": 4.8},
                    "tickSize": {"condition": {"test": "datum.value == 100 || datum.value == 1000", "value": 3.5}, "value": 2},
                    "gridColor": {"condition": {"test": "datum.value == 100 || datum.value == 1000", "value": "#b0b0b0"}, "value": "#d8d8d8"},
                    "gridDash": {"condition": {"test": "datum.value == 100 || datum.value == 1000", "value": []}, "value": [4, 2]},
                    "gridWidth": {"condition": {"test": "datum.value == 100 || datum.value == 1000", "value": 1.2}, "value": 0.8},
                    "titleX": -38.7, "titleY": 95, "titleBaseline": "middle"}},
                "y2": {"datum": 44.6},
                "color": {"field": "method", "type": "nominal",
                  "scale": {"domain": ["EUB","CF","CF-PLAN","STF","STF-PLAN","TST","TST-PLAN","TIDE","TIDE-PLAN"],
                            "range": ["#98DEE2","#CBE09A","#CBE09A","#E8913A","#E8913A","#7A3E96","#7A3E96","#9CBEEE","#9CBEEE"]},
                  "legend": {"title": null}}
              }
            },
            {
              "mark": {"type": "point", "filled": false, "opacity": 1, "clip": true, "color": "#7a7a7a", "strokeWidth": 0.9, "size": 86.7},
              "encoding": {
                "y": {"field": "mse", "type": "quantitative"},
                "shape": {"condition": [
                  {"test": "datum.method === 'EUB'", "value": "M-1 2l2 -2m-2 3.8l2 -2m-2 3.8l2 -2m-2 3.8l2 -2m-2 3.8l2 -2m-2 3.8l2 -2m-2 3.8l2 -2m-2 3.8l2 -2m-2 3.8l2 -2m-2 3.8l2 -2m-2 3.8l2 -2m-2 3.8l2 -2m-2 3.8l2 -2m-2 3.8l2 -2m-2 3.8l2 -2m-2 3.8l2 -2m-2 3.8l2 -2m-2 3.8l2 -2m-2 3.8l2 -2m-2 3.8l2 -2m-2 3.8l2 -2m-2 3.8l2 -2m-2 3.8l2 -2m-2 3.8l2 -2m-2 3.8l2 -2"},
                  {"test": "datum.method === 'CF'", "value": "M-1 1.1l1.1 -1.1M-1 2l2 -2m-2 2.9l2 -2m-2 2.9l2 -2m-2 2.9l2 -2m-2 2.9l2 -2m-2 2.9l2 -2m-2 2.9l2 -2m-2 2.9l2 -2m-2 2.9l2 -2m-2 2.9l2 -2m-2 2.9l2 -2m-2 2.9l2 -2m-2 2.9l2 -2m-2 2.9l2 -2m-2 2.9l2 -2m-2 2.9l2 -2m-2 2.9l2 -2m-2 2.9l2 -2m-2 2.9l2 -2m-2 2.9l2 -2m-2 2.9l2 -2m-2 2.9l2 -2m-2 2.9l2 -2m-2 2.9l2 -2m-2 2.9l2 -2m-2 2.9l2 -2m-2 2.9l2 -2m-2 2.9l2 -2m-2 2.9l2 -2m-2 2.9l2 -2m-2 2.9l2 -2m-2 2.9l2 -2m-2 2.9l2 -2m-2 2.9l2 -2m-2 2.9l2 -2m-2 2.9l2 -2m-2 2.9l2 -2m-2 2.9l2 -2m-2 2.9l2 -2m-2 2.9l2 -2m-2 2.9l2 -2m-2 2.9l2 -2m-2 2.9l2 -2m-2 2.9l2 -2m-2 2.9l2 -2m-2 2.9l2 -2m-2 2.9l2 -2m-2 2.9l2 -2m-2 2.9l2 -2m-2 2.9l2 -2m-2 2.9l2 -2m-2 2.9l2 -2"},
                  {"test": "datum.method === 'CF-PLAN'", "value": "M-1 1l2 0m-2 1.8l2 0m-2 1.8l2 0m-2 1.8l2 0m-2 1.8l2 0m-2 1.8l2 0m-2 1.8l2 0m-2 1.8l2 0m-2 1.8l2 0m-2 1.8l2 0m-2 1.8l2 0m-2 1.8l2 0m-2 1.8l2 0m-2 1.8l2 0m-2 1.8l2 0m-2 1.8l2 0m-2 1.8l2 0m-2 1.8l2 0m-2 1.8l2 0m-2 1.8l2 0m-2 1.8l2 0m-2 1.8l2 0m-2 1.8l2 0m-2 1.8l2 0"},
                  {"test": "datum.method === 'STF'", "value": "M-1 2l2 -2m-2 3.8l2 -2m-2 3.8l2 -2m-2 3.8l2 -2m-2 3.8l2 -2m-2 3.8l2 -2m-2 3.8l2 -2m-2 3.8l2 -2m-2 3.8l2 -2m-2 3.8l2 -2m-2 3.8l2 -2m-2 3.8l2 -2m-2 3.8l2 -2m-2 3.8l2 -2m-2 3.8l2 -2m-2 3.8l2 -2m-2 3.8l2 -2m-2 3.8l2 -2m-2 3.8l2 -2m-2 3.8l2 -2m-2 3.8l2 -2m-2 3.8l2 -2m-2 3.8l2 -2m-2 3.8l2 -2M-1 0l2 2m-2 -0.2l2 2m-2 -0.2l2 2m-2 -0.2l2 2m-2 -0.2l2 2m-2 -0.2l2 2m-2 -0.2l2 2m-2 -0.2l2 2m-2 -0.2l2 2m-2 -0.2l2 2m-2 -0.2l2 2m-2 -0.2l2 2m-2 -0.2l2 2m-2 -0.2l2 2m-2 -0.2l2 2m-2 -0.2l2 2m-2 -0.2l2 2m-2 -0.2l2 2m-2 -0.2l2 2m-2 -0.2l2 2m-2 -0.2l2 2m-2 -0.2l2 2m-2 -0.2l2 2m-2 -0.2l2 2"},
                  {"test": "datum.method === 'STF-PLAN'", "value": "M0 0L0 44M-1 1l2 0m-2 1.8l2 0m-2 1.8l2 0m-2 1.8l2 0m-2 1.8l2 0m-2 1.8l2 0m-2 1.8l2 0m-2 1.8l2 0m-2 1.8l2 0m-2 1.8l2 0m-2 1.8l2 0m-2 1.8l2 0m-2 1.8l2 0m-2 1.8l2 0m-2 1.8l2 0m-2 1.8l2 0m-2 1.8l2 0m-2 1.8l2 0m-2 1.8l2 0m-2 1.8l2 0m-2 1.8l2 0m-2 1.8l2 0m-2 1.8l2 0m-2 1.8l2 0"},
                  {"test": "datum.method === 'TST'", "value": "M-1 0l2 2m-2 -0.2l2 2m-2 -0.2l2 2m-2 -0.2l2 2m-2 -0.2l2 2m-2 -0.2l2 2m-2 -0.2l2 2m-2 -0.2l2 2m-2 -0.2l2 2m-2 -0.2l2 2m-2 -0.2l2 2m-2 -0.2l2 2m-2 -0.2l2 2m-2 -0.2l2 2m-2 -0.2l2 2m-2 -0.2l2 2m-2 -0.2l2 2m-2 -0.2l2 2m-2 -0.2l2 2m-2 -0.2l2 2m-2 -0.2l2 2m-2 -0.2l2 2m-2 -0.2l2 2m-2 -0.2l2 2"},
                  {"test": "datum.method === 'TST-PLAN'", "value": "M0 0.3l0.118 0.338l0.358 0.007l-0.286 0.217l0.104 0.343l-0.294 -0.205l-0.294 0.205l0.104 -0.343l-0.286 -0.217l0.358 -0.007l0.118 -0.338m0 1.7l0.118 0.338l0.358 0.007l-0.286 0.217l0.104 0.343l-0.294 -0.205l-0.294 0.205l0.104 -0.343l-0.286 -0.217l0.358 -0.007l0.118 -0.338m0 1.7l0.118 0.338l0.358 0.007l-0.286 0.217l0.104 0.343l-0.294 -0.205l-0.294 0.205l0.104 -0.343l-0.286 -0.217l0.358 -0.007l0.118 -0.338m0 1.7l0.118 0.338l0.358 0.007l-0.286 0.217l0.104 0.343l-0.294 -0.205l-0.294 0.205l0.104 -0.343l-0.286 -0.217l0.358 -0.007l0.118 -0.338m0 1.7l0.118 0.338l0.358 0.007l-0.286 0.217l0.104 0.343l-0.294 -0.205l-0.294 0.205l0.104 -0.343l-0.286 -0.217l0.358 -0.007l0.118 -0.338m0 1.7l0.118 0.338l0.358 0.007l-0.286 0.217l0.104 0.343l-0.294 -0.205l-0.294 0.205l0.104 -0.343l-0.286 -0.217l0.358 -0.007l0.118 -0.338m0 1.7l0.118 0.338l0.358 0.007l-0.286 0.217l0.104 0.343l-0.294 -0.205l-0.294 0.205l0.104 -0.343l-0.286 -0.217l0.358 -0.007l0.118 -0.338m0 1.7l0.118 0.338l0.358 0.007l-0.286 0.217l0.104 0.343l-0.294 -0.205l-0.294 0.205l0.104 -0.343l-0.286 -0.217l0.358 -0.007l0.118 -0.338m0 1.7l0.118 0.338l0.358 0.007l-0.286 0.217l0.104 0.343l-0.294 -0.205l-0.294 0.205l0.104 -0.343l-0.286 -0.217l0.358 -0.007l0.118 -0.338m0 1.7l0.118 0.338l0.358 0.007l-0.286 0.217l0.104 0.343l-0.294 -0.205l-0.294 0.205l0.104 -0.343l-0.286 -0.217l0.358 -0.007l0.118 -0.338m0 1.7l0.118 0.338l0.358 0.007l-0.286 0.217l0.104 0.343l-0.294 -0.205l-0.294 0.205l0.104 -0.343l-0.286 -0.217l0.358 -0.007l0.118 -0.338m0 1.7l0.118 0.338l0.358 0.007l-0.286 0.217l0.104 0.343l-0.294 -0.205l-0.294 0.205l0.104 -0.343l-0.286 -0.217l0.358 -0.007l0.118 -0.338m0 1.7l0.118 0.338l0.358 0.007l-0.286 0.217l0.104 0.343l-0.294 -0.205l-0.294 0.205l0.104 -0.343l-0.286 -0.217l0.358 -0.007l0.118 -0.338m0 1.7l0.118 0.338l0.358 0.007l-0.286 0.217l0.104 0.343l-0.294 -0.205l-0.294 0.205l0.104 -0.343l-0.286 -0.217l0.358 -0.007l0.118 -0.338m0 1.7l0.118 0.338l0.358 0.007l-0.286 0.217l0.104 0.343l-0.294 -0.205l-0.294 0.205l0.104 -0.343l-0.286 -0.217l0.358 -0.007l0.118 -0.338m0 1.7l0.118 0.338l0.358 0.007l-0.286 0.217l0.104 0.343l-0.294 -0.205l-0.294 0.205l0.104 -0.343l-0.286 -0.217l0.358 -0.007l0.118 -0.338m0 1.7l0.118 0.338l0.358 0.007l-0.286 0.217l0.104 0.343l-0.294 -0.205l-0.294 0.205l0.104 -0.343l-0.286 -0.217l0.358 -0.007l0.118 -0.338m0 1.7l0.118 0.338l0.358 0.007l-0.286 0.217l0.104 0.343l-0.294 -0.205l-0.294 0.205l0.104 -0.343l-0.286 -0.217l0.358 -0.007l0.118 -0.338m0 1.7l0.118 0.338l0.358 0.007l-0.286 0.217l0.104 0.343l-0.294 -0.205l-0.294 0.205l0.104 -0.343l-0.286 -0.217l0.358 -0.007l0.118 -0.338m0 1.7l0.118 0.338l0.358 0.007l-0.286 0.217l0.104 0.343l-0.294 -0.205l-0.294 0.205l0.104 -0.343l-0.286 -0.217l0.358 -0.007l0.118 -0.338m0 1.7l0.118 0.338l0.358 0.007l-0.286 0.217l0.104 0.343l-0.294 -0.205l-0.294 0.205l0.104 -0.343l-0.286 -0.217l0.358 -0.007l0.118 -0.338m0 1.7l0.118 0.338l0.358 0.007l-0.286 0.217l0.104 0.343l-0.294 -0.205l-0.294 0.205l0.104 -0.343l-0.286 -0.217l0.358 -0.007l0.118 -0.338m0 1.7l0.118 0.338l0.358 0.007l-0.286 0.217l0.104 0.343l-0.294 -0.205l-0.294 0.205l0.104 -0.343l-0.286 -0.217l0.358 -0.007l0.118 -0.338m0 1.7l0.118 0.338l0.358 0.007l-0.286 0.217l0.104 0.343l-0.294 -0.205l-0.294 0.205l0.104 -0.343l-0.286 -0.217l0.358 -0.007l0.118 -0.338m0 1.7l0.118 0.338l0.358 0.007l-0.286 0.217l0.104 0.343l-0.294 -0.205l-0.294 0.205l0.104 -0.343l-0.286 -0.217l0.358 -0.007l0.118 -0.338"},
                  {"test": "datum.method === 'TIDE'", "value": "M-0.85 0.8a0.3 0.3 0 1 0 0.6 0a0.3 0.3 0 1 0 -0.6 0m1.1 0a0.3 0.3 0 1 0 0.6 0a0.3 0.3 0 1 0 -0.6 0m-0.55 1.5a0.3 0.3 0 1 0 0.6 0a0.3 0.3 0 1 0 -0.6 0m-0.55 1.5a0.3 0.3 0 1 0 0.6 0a0.3 0.3 0 1 0 -0.6 0m1.1 0a0.3 0.3 0 1 0 0.6 0a0.3 0.3 0 1 0 -0.6 0m-0.55 1.5a0.3 0.3 0 1 0 0.6 0a0.3 0.3 0 1 0 -0.6 0m-0.55 1.5a0.3 0.3 0 1 0 0.6 0a0.3 0.3 0 1 0 -0.6 0m1.1 0a0.3 0.3 0 1 0 0.6 0a0.3 0.3 0 1 0 -0.6 0m-0.55 1.5a0.3 0.3 0 1 0 0.6 0a0.3 0.3 0 1 0 -0.6 0m-0.55 1.5a0.3 0.3 0 1 0 0.6 0a0.3 0.3 0 1 0 -0.6 0m1.1 0a0.3 0.3 0 1 0 0.6 0a0.3 0.3 0 1 0 -0.6 0m-0.55 1.5a0.3 0.3 0 1 0 0.6 0a0.3 0.3 0 1 0 -0.6 0m-0.55 1.5a0.3 0.3 0 1 0 0.6 0a0.3 0.3 0 1 0 -0.6 0m1.1 0a0.3 0.3 0 1 0 0.6 0a0.3 0.3 0 1 0 -0.6 0m-0.55 1.5a0.3 0.3 0 1 0 0.6 0a0.3 0.3 0 1 0 -0.6 0m-0.55 1.5a0.3 0.3 0 1 0 0.6 0a0.3 0.3 0 1 0 -0.6 0m1.1 0a0.3 0.3 0 1 0 0.6 0a0.3 0.3 0 1 0 -0.6 0m-0.55 1.5a0.3 0.3 0 1 0 0.6 0a0.3 0.3 0 1 0 -0.6 0m-0.55 1.5a0.3 0.3 0 1 0 0.6 0a0.3 0.3 0 1 0 -0.6 0m1.1 0a0.3 0.3 0 1 0 0.6 0a0.3 0.3 0 1 0 -0.6 0m-0.55 1.5a0.3 0.3 0 1 0 0.6 0a0.3 0.3 0 1 0 -0.6 0m-0.55 1.5a0.3 0.3 0 1 0 0.6 0a0.3 0.3 0 1 0 -0.6 0m1.1 0a0.3 0.3 0 1 0 0.6 0a0.3 0.3 0 1 0 -0.6 0m-0.55 1.5a0.3 0.3 0 1 0 0.6 0a0.3 0.3 0 1 0 -0.6 0m-0.55 1.5a0.3 0.3 0 1 0 0.6 0a0.3 0.3 0 1 0 -0.6 0m1.1 0a0.3 0.3 0 1 0 0.6 0a0.3 0.3 0 1 0 -0.6 0m-0.55 1.5a0.3 0.3 0 1 0 0.6 0a0.3 0.3 0 1 0 -0.6 0m-0.55 1.5a0.3 0.3 0 1 0 0.6 0a0.3 0.3 0 1 0 -0.6 0m1.1 0a0.3 0.3 0 1 0 0.6 0a0.3 0.3 0 1 0 -0.6 0m-0.55 1.5a0.3 0.3 0 1 0 0.6 0a0.3 0.3 0 1 0 -0.6 0"},
                  {"test": "datum.method === 'TIDE-PLAN'", "value": "M-0.6 0.9a0.6 0.6 0 1 0 1.2 0a0.6 0.6 0 1 0 -1.2 0m1.6 0.9a0.6 0.6 0 0 0 0 1.2m-2 -1.2a0.6 0.6 0 0 1 0 1.2m0.4 0.9a0.6 0.6 0 1 0 1.2 0a0.6 0.6 0 1 0 -1.2 0m1.6 0.9a0.6 0.6 0 0 0 0 1.2m-2 -1.2a0.6 0.6 0 0 1 0 1.2m0.4 0.9a0.6 0.6 0 1 0 1.2 0a0.6 0.6 0 1 0 -1.2 0m1.6 0.9a0.6 0.6 0 0 0 0 1.2m-2 -1.2a0.6 0.6 0 0 1 0 1.2m0.4 0.9a0.6 0.6 0 1 0 1.2 0a0.6 0.6 0 1 0 -1.2 0m1.6 0.9a0.6 0.6 0 0 0 0 1.2m-2 -1.2a0.6 0.6 0 0 1 0 1.2m0.4 0.9a0.6 0.6 0 1 0 1.2 0a0.6 0.6 0 1 0 -1.2 0m1.6 0.9a0.6 0.6 0 0 0 0 1.2m-2 -1.2a0.6 0.6 0 0 1 0 1.2m0.4 0.9a0.6 0.6 0 1 0 1.2 0a0.6 0.6 0 1 0 -1.2 0m1.6 0.9a0.6 0.6 0 0 0 0 1.2m-2 -1.2a0.6 0.6 0 0 1 0 1.2m0.4 0.9a0.6 0.6 0 1 0 1.2 0a0.6 0.6 0 1 0 -1.2 0m1.6 0.9a0.6 0.6 0 0 0 0 1.2m-2 -1.2a0.6 0.6 0 0 1 0 1.2m0.4 0.9a0.6 0.6 0 1 0 1.2 0a0.6 0.6 0 1 0 -1.2 0m1.6 0.9a0.6 0.6 0 0 0 0 1.2m-2 -1.2a0.6 0.6 0 0 1 0 1.2m0.4 0.9a0.6 0.6 0 1 0 1.2 0a0.6 0.6 0 1 0 -1.2 0m1.6 0.9a0.6 0.6 0 0 0 0 1.2m-2 -1.2a0.6 0.6 0 0 1 0 1.2m0.4 0.9a0.6 0.6 0 1 0 1.2 0a0.6 0.6 0 1 0 -1.2 0m1.6 0.9a0.6 0.6 0 0 0 0 1.2m-2 -1.2a0.6 0.6 0 0 1 0 1.2m0.4 0.9a0.6 0.6 0 1 0 1.2 0a0.6 0.6 0 1 0 -1.2 0m1.6 0.9a0.6 0.6 0 0 0 0 1.2m-2 -1.2a0.6 0.6 0 0 1 0 1.2m0.4 0.9a0.6 0.6 0 1 0 1.2 0a0.6 0.6 0 1 0 -1.2 0m1.6 0.9a0.6 0.6 0 0 0 0 1.2m-2 -1.2a0.6 0.6 0 0 1 0 1.2m0.4 0.9a0.6 0.6 0 1 0 1.2 0a0.6 0.6 0 1 0 -1.2 0m1.6 0.9a0.6 0.6 0 0 0 0 1.2m-2 -1.2a0.6 0.6 0 0 1 0 1.2m0.4 0.9"}
                ], "value": "M0 0"}
              }
            },
            {
              "mark": {"type": "rule", "color": "#404040", "strokeWidth": 2.2},
              "encoding": {"y": {"field": "mse_lo", "type": "quantitative"}, "y2": {"field": "mse_hi"}}
            }
          ]
        }
      ]
    }
  ]
}
